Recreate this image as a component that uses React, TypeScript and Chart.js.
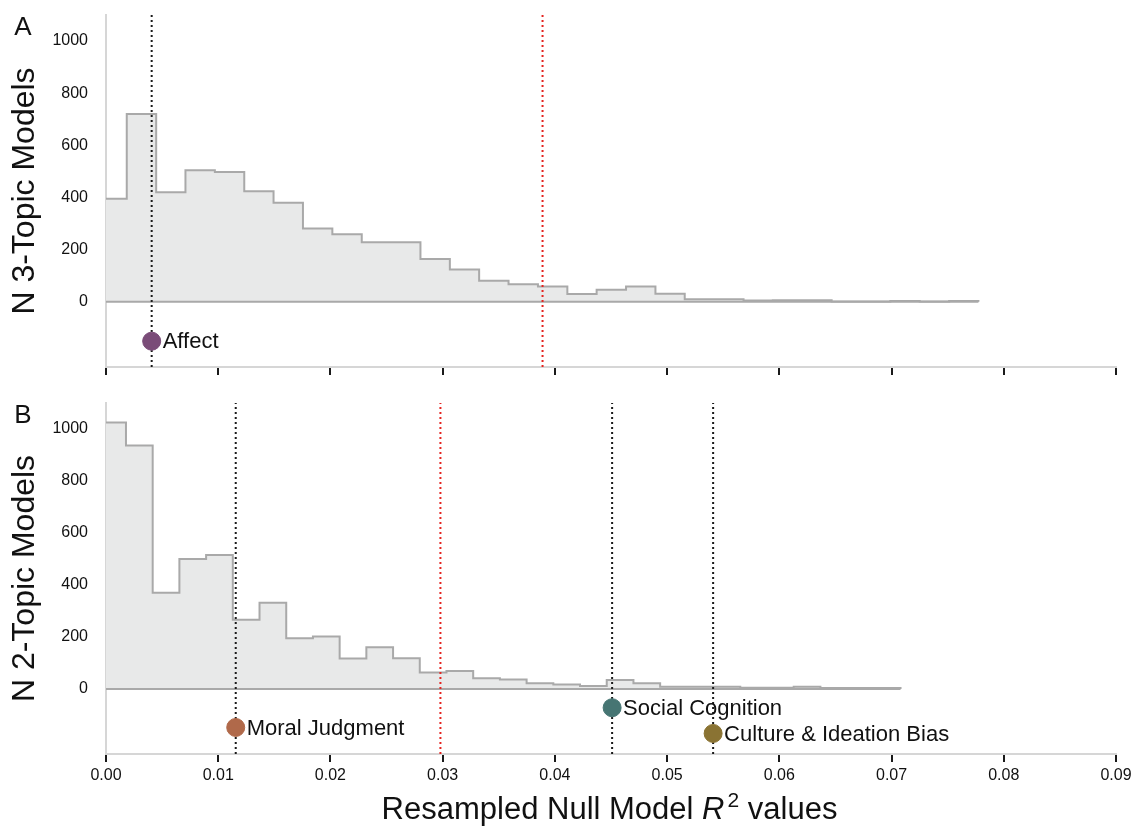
import { useEffect, useRef } from "react";
import { Chart, registerables } from "chart.js";

Chart.register(...registerables);

const FONT = '"Liberation Sans", Arial, Helvetica, sans-serif';

// shared axis values
const xTicks = [0, 0.01, 0.02, 0.03, 0.04, 0.05, 0.06, 0.07, 0.08, 0.09];
const yTicks = [0, 200, 400, 600, 800, 1000];

// Panel A: 3-topic models histogram
const binEdgesA = [
  0, 0.00185, 0.00447, 0.00708, 0.0097, 0.01232, 0.01493, 0.01755, 0.02017, 0.02279, 0.0254,
  0.02802, 0.03064, 0.03325, 0.03587, 0.03849, 0.04111, 0.04372, 0.04634, 0.04896, 0.05157,
  0.05419, 0.05681, 0.05942, 0.06204, 0.06466, 0.06728, 0.06989, 0.07251, 0.07513, 0.07774,
];
const countsA = [
  395, 720, 420, 505, 498, 424, 380, 281, 259, 228, 228, 164, 124, 81, 67, 59, 30, 46, 59, 31,
  10, 10, 5, 6, 6, 1, 1, 3, 1, 3,
];
const nullLineA = 0.0389;
const topicNamesA = ["Affect"];
const topicR2A = [0.00407];
const topicPosA = [-151];
const topicColorsA = ["#7a4c78"];

// Panel B: 2-topic models histogram
const binEdgesB = [
  0, 0.00178, 0.00416, 0.00654, 0.00892, 0.0113, 0.01368, 0.01606, 0.01844, 0.02082, 0.0232,
  0.02558, 0.02796, 0.03034, 0.03272, 0.0351, 0.03748, 0.03986, 0.04224, 0.04462, 0.047,
  0.04938, 0.05176, 0.05414, 0.05652, 0.0589, 0.06128, 0.06366, 0.06604, 0.06842, 0.0708,
];
const countsB = [
  1025, 937, 370, 500, 515, 266, 332, 195, 202, 117, 161, 118, 63, 69, 41, 37, 22, 17, 12, 35,
  22, 9, 9, 9, 5, 5, 9, 4, 4, 4,
];
const nullLineB = 0.0298;
const topicNamesB = ["Moral Judgment", "Social Cognition", "Culture & Ideation Bias"];
const topicR2B = [0.01156, 0.0451, 0.0541];
const topicPosB = [-148, -72, -171];
const topicColorsB = ["#b0694a", "#467573", "#8a7333"];

const Y_MIN = -250;
const Y_MAX = 1100;

function histPoints(edges: number[], counts: number[]) {
  const pts = counts.map((c, i) => ({ x: edges[i], y: c }));
  const end = edges[edges.length - 1];
  pts.push({ x: end, y: counts[counts.length - 1] });
  pts.push({ x: end, y: 0 });
  return pts;
}

function vline(x: number, color: string, order: number) {
  return {
    data: [
      { x, y: Y_MIN },
      { x, y: Y_MAX },
    ],
    showLine: true,
    borderColor: color,
    borderWidth: 2,
    borderDash: [2, 3],
    pointRadius: 0,
    fill: false,
    order,
  };
}

function buildConfig(opts: {
  edges: number[];
  counts: number[];
  nullLine: number;
  names: string[];
  r2: number[];
  pos: number[];
  colors: string[];
  letter: string;
  yTitle: string;
  showXLabels: boolean;
  xAxisHeight: number;
  padTop: number;
  xTitle: boolean;
}) {
  const end = opts.edges[opts.edges.length - 1];
  const datasets: any[] = [
    {
      data: opts.r2.map((v, i) => ({ x: v, y: opts.pos[i] })),
      pointRadius: 9,
      pointHoverRadius: 9,
      pointBackgroundColor: opts.colors,
      pointBorderColor: opts.colors,
      showLine: false,
      order: 0,
    },
    vline(opts.nullLine, "#e5231f", 1),
    ...opts.r2.map((v) => vline(v, "#1a1a1a", 1)),
    {
      data: [
        { x: 0, y: 0 },
        { x: end, y: 0 },
      ],
      showLine: true,
      borderColor: "#a9a9a9",
      borderWidth: 2,
      pointRadius: 0,
      fill: false,
      order: 2,
    },
    {
      data: histPoints(opts.edges, opts.counts),
      showLine: true,
      stepped: true,
      borderColor: "#a9a9a9",
      borderWidth: 2,
      backgroundColor: "#e8e9e9",
      fill: "origin",
      pointRadius: 0,
      order: 3,
    },
  ];

  const textPlugin = {
    id: "texts",
    afterDatasetsDraw(chart: any) {
      const ctx = chart.ctx;
      const ca = chart.chartArea;
      ctx.save();
      ctx.fillStyle = "#111";
      // marker labels
      const meta = chart.getDatasetMeta(0);
      ctx.font = `22px ${FONT}`;
      ctx.textAlign = "left";
      ctx.textBaseline = "middle";
      meta.data.forEach((pt: any, i: number) => {
        ctx.fillText(opts.names[i], pt.x + 11, pt.y + 1);
      });
      // panel letter
      ctx.font = `26px ${FONT}`;
      ctx.textAlign = "center";
      ctx.textBaseline = "middle";
      ctx.fillText(opts.letter, 23, ca.top + 13);
      // y title
      ctx.save();
      ctx.translate(25, (ca.top + ca.bottom) / 2);
      ctx.rotate(-Math.PI / 2);
      ctx.font = `32px ${FONT}`;
      ctx.textAlign = "center";
      ctx.textBaseline = "middle";
      ctx.fillText(opts.yTitle, 0, 0);
      ctx.restore();
      // x title
      if (opts.xTitle) {
        const parts = [
          { t: "Resampled Null Model ", f: `31px ${FONT}`, dy: 0 },
          { t: "R", f: `italic 31px ${FONT}`, dy: 0 },
          { t: "2", f: `21px ${FONT}`, dy: -12 },
          { t: " values", f: `31px ${FONT}`, dy: 0 },
        ];
        let total = 0;
        const widths = parts.map((p) => {
          ctx.font = p.f;
          const w = ctx.measureText(p.t).width;
          total += w;
          return w;
        });
        let x = (ca.left + ca.right) / 2 - total / 2 - 3;
        const y = ca.bottom + 65;
        ctx.textAlign = "left";
        ctx.textBaseline = "alphabetic";
        parts.forEach((p, i) => {
          ctx.font = p.f;
          ctx.fillText(p.t, x, y + p.dy);
          x += widths[i] + (i === 1 ? 3 : 0);
        });
      }
      ctx.restore();
    },
  };

  return {
    type: "scatter" as const,
    data: { datasets },
    plugins: [textPlugin],
    options: {
      animation: false,
      responsive: false,
      events: [],
      layout: { padding: { left: 0, right: 19, top: opts.padTop, bottom: 0 } },
      plugins: { legend: { display: false }, tooltip: { enabled: false } },
      scales: {
        x: {
          type: "linear",
          min: 0,
          max: 0.09,
          afterBuildTicks(scale: any) {
            scale.ticks = xTicks.map((v) => ({ value: v }));
          },
          afterFit(scale: any) {
            scale.height = opts.xAxisHeight;
            scale.paddingLeft = 0;
            scale.paddingRight = 0;
          },
          border: { display: true, color: "#d6d6d6", width: 2 },
          grid: {
            display: true,
            drawOnChartArea: false,
            drawTicks: true,
            tickLength: 8,
            color: "#1a1a1a",
            lineWidth: 2,
          },
          ticks: {
            display: opts.showXLabels,
            padding: 4,
            maxRotation: 0,
            autoSkip: false,
            color: "#111",
            font: { family: FONT, size: 16 },
            callback: (v: any) => Number(v).toFixed(2),
          },
        },
        y: {
          type: "linear",
          min: Y_MIN,
          max: Y_MAX,
          afterBuildTicks(scale: any) {
            scale.ticks = yTicks.map((v) => ({ value: v }));
          },
          afterFit(scale: any) {
            scale.width = 106;
            scale.paddingTop = 0;
            scale.paddingBottom = 0;
          },
          border: { display: true, color: "#d6d6d6", width: 2 },
          grid: { display: false, drawTicks: false },
          ticks: {
            padding: 18,
            color: "#111",
            font: { family: FONT, size: 16 },
            callback: (v: any) => String(v),
          },
        },
      },
    },
  };
}

export default function App() {
  const refA = useRef<HTMLCanvasElement>(null);
  const refB = useRef<HTMLCanvasElement>(null);

  useEffect(() => {
    const a = new Chart(
      refA.current as HTMLCanvasElement,
      buildConfig({
        edges: binEdgesA,
        counts: countsA,
        nullLine: nullLineA,
        names: topicNamesA,
        r2: topicR2A,
        pos: topicPosA,
        colors: topicColorsA,
        letter: "A",
        yTitle: "N 3-Topic Models",
        showXLabels: false,
        xAxisHeight: 18,
        padTop: 15,
        xTitle: false,
      }) as any
    );
    const b = new Chart(
      refB.current as HTMLCanvasElement,
      buildConfig({
        edges: binEdgesB,
        counts: countsB,
        nullLine: nullLineB,
        names: topicNamesB,
        r2: topicR2B,
        pos: topicPosB,
        colors: topicColorsB,
        letter: "B",
        yTitle: "N 2-Topic Models",
        showXLabels: true,
        xAxisHeight: 76,
        padTop: 18,
        xTitle: true,
      }) as any
    );
    return () => {
      a.destroy();
      b.destroy();
    };
  }, []);

  return (
    <div
      style={{
        position: "absolute",
        left: 0,
        top: 0,
        width: 1135,
        height: 830,
        background: "#fff",
      }}
    >
      <canvas
        ref={refA}
        width={1135}
        height={385}
        style={{ position: "absolute", left: 0, top: 0, width: 1135, height: 385 }}
      />
      <canvas
        ref={refB}
        width={1135}
        height={445}
        style={{ position: "absolute", left: 0, top: 385, width: 1135, height: 445 }}
      />
    </div>
  );
}
